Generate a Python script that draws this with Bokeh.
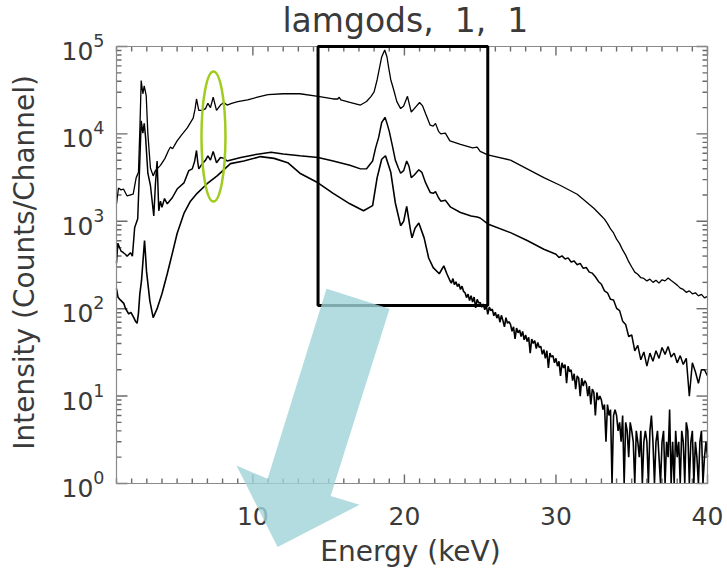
import numpy as np
from bokeh.plotting import figure
from bokeh.models import (FixedTicker, LinearAxis, LogAxis, BoxAnnotation,
                          PolyAnnotation, LogTickFormatter, Range1d, Label,
                          CustomJSTickFormatter)
from bokeh.embed import file_html
from bokeh.resources import INLINE

# ---------------- data ----------------
title_text = "lamgods, \u00a01, \u00a01"
x_label = "Energy (keV)"
y_label = "Intensity (Counts/Channel)"

x_major_ticks = [10, 20, 30, 40]
x_minor_ticks = [v for v in range(1, 41) if v not in x_major_ticks]
y_major_ticks = [1, 10, 100, 1000, 10000, 100000]
y_minor_ticks = [m * 10 ** d for d in range(5) for m in range(2, 10)]

# top spectrum
energy_a = [1.0, 1.13, 1.3, 1.46, 1.7, 2.1, 2.3, 2.45, 2.55, 2.63, 2.74, 2.83, 2.96, 3.07,
            3.24, 3.42, 3.57, 3.9, 4.2, 4.43, 4.56, 4.7, 5.0, 5.3, 5.67, 6.06, 6.18, 6.28,
            6.36, 6.43, 6.66, 6.88, 7.03, 7.2, 7.38, 7.6, 7.86, 8.08, 8.3, 8.6, 9.0, 9.65,
            10.3, 11.0, 12.0, 13.1, 14.3, 15.3, 15.6, 15.7, 15.8, 16.4, 17.1, 17.5, 17.8,
            18.0, 18.2, 18.5, 18.7, 18.85, 18.96, 19.1, 19.3, 19.5, 19.75, 19.95, 20.2,
            20.35, 20.45, 20.65, 21.0, 21.2, 21.4, 21.7, 21.9, 22.05, 22.25, 22.4, 22.7,
            23.0, 23.7, 24.5, 24.8, 25.0, 25.5, 27.0, 28.1, 29.2, 30.3, 31.4, 32.5]
counts_a = [1585, 2400, 2290, 2340, 1950, 2040, 3160, 3630, 12600, 40700, 28800, 35500,
            27500, 10000, 4070, 3310, 3800, 4370, 5250, 6460, 7080, 6760, 8320, 9770,
            11750, 15140, 19050, 25100, 21400, 18600, 18600, 19500, 22400, 19950, 26300,
            18600, 21400, 22900, 21400, 22400, 23400, 24500, 26300, 28200, 28800, 28800,
            26900, 25100, 25100, 26300, 24500, 22900, 21400, 23500, 26900, 30200, 41700,
            75900, 91200, 75900, 57500, 41700, 31600, 23400, 19500, 20900, 26900, 20900,
            17800, 19500, 22900, 20900, 17000, 12600, 12300, 13200, 10700, 10000, 10200,
            8320, 7590, 6920, 7080, 6310, 5750, 5010, 3980, 3160, 2570, 2040, 1410]
tail_energy_a = np.round(np.arange(33.0, 40.01, 0.2), 2)  # channel grid
tail_counts_a = [1150, 1060, 940, 820, 735, 625, 555, 470, 410, 345, 300, 262, 248, 226,
                 222, 208, 218, 200, 212, 196, 214, 208, 224, 210, 198, 186, 172, 166,
                 154, 160, 148, 152, 140, 146, 133, 138]

# middle spectrum
energy_b = [1.0, 1.09, 1.2, 1.3, 1.46, 1.6, 1.7, 1.92, 2.05, 2.2, 2.4, 2.5, 2.63, 2.74,
            2.83, 2.92, 3.07, 3.24, 3.46, 3.57, 3.68, 3.79, 3.9, 4.0, 4.17, 4.35, 4.68,
            5.0, 5.45, 5.77, 6.0, 6.15, 6.28, 6.36, 6.43, 6.66, 6.88, 7.03, 7.2, 7.38,
            7.6, 7.86, 8.1, 8.3, 9.2, 10.05, 11.2, 12.0, 13.1, 14.3, 15.3, 16.4, 17.1,
            17.5, 17.9, 18.1, 18.3, 18.5, 18.72, 18.85, 19.0, 19.2, 19.4, 19.6, 19.75,
            19.95, 20.15, 20.3, 20.45, 20.65, 20.95, 21.15, 21.4, 21.7, 21.9, 22.05,
            22.25, 22.4, 22.7, 23.05, 23.7, 24.4, 24.8, 25.0, 25.5, 27.0, 28.1, 29.2]
counts_b = [331, 562, 501, 457, 437, 417, 398, 437, 398, 851, 1070, 3160, 14100, 10200,
            13200, 9120, 3550, 2570, 1150, 2690, 4900, 1320, 1700, 1450, 1820, 1585, 1860,
            2340, 2750, 3800, 3980, 4790, 6460, 4790, 3980, 4570, 5010, 5620, 5010, 6310,
            4680, 5370, 5250, 4900, 5370, 5750, 6170, 5890, 5620, 5370, 4900, 4370, 3980,
            4000, 4900, 6920, 9120, 13500, 15500, 13200, 10700, 7410, 5010, 4070, 3550,
            3800, 4900, 4270, 3160, 3390, 3890, 3630, 2750, 2140, 2090, 2190, 1860, 1700,
            1740, 1450, 1260, 1150, 1120, 1090, 933, 741, 603, 479]
tail_energy_b = np.round(np.arange(30.0, 40.01, 0.2), 2)  # channel grid
tail_counts_b = [420, 385, 402, 370, 381, 342, 352, 318, 330, 290, 296, 262, 255, 232, 205,
                 190, 160, 152, 128, 126, 101, 95, 72, 66, 48, 50, 33, 38, 26, 32, 22, 31,
                 25, 33, 27, 36, 30, 37, 28, 31, 24, 29, 23, 27, 10, 24, 19, 14, 20, 20, 17]

# bottom spectrum
energy_c = [1.0, 1.1, 1.25, 1.48, 1.6, 1.81, 1.95, 2.14, 2.25, 2.36, 2.45, 2.54, 2.65,
            2.75, 2.85, 2.92, 2.98, 3.2, 3.42, 3.68, 4.0, 4.35, 4.68, 5.0, 5.45, 5.88,
            6.32, 6.98, 7.64, 8.52, 9.4, 10.5, 11.4, 12.3, 13.1, 14.2, 15.3, 16.4, 17.3,
            17.9, 18.2, 18.5, 18.75, 19.1, 19.4, 19.75, 19.95, 20.15, 20.4, 20.5, 20.7,
            20.95, 21.3, 21.6, 21.9, 22.3, 22.6, 22.8]
counts_c = [170, 135, 126, 115, 100, 87, 91, 79, 72, 68, 89, 148, 209, 355, 603, 398, 269,
            123, 79, 100, 148, 251, 427, 724, 1230, 1700, 2090, 2690, 3310, 4570, 4900,
            5500, 5250, 4680, 3550, 2820, 2090, 1585, 1320, 1510, 3160, 5130, 5620, 3630,
            1620, 891, 1000, 1480, 794, 646, 832, 955, 646, 380, 295, 251, 309, 251]
tail_energy_c = np.round(np.arange(23.0, 40.01, 0.1), 2)  # channel grid
tail_counts_c = [210, 196, 221, 188, 203, 179, 192, 166, 181, 158,
                 152, 134, 147, 124, 141, 119, 136, 102, 128, 116,
                 118, 104, 113, 97, 110, 86, 104, 95, 99, 83,
                 91, 78, 86, 70, 84, 73, 62, 79, 68, 71,
                 66, 55, 62, 45, 60, 53, 57, 48, 55, 44,
                 50, 42, 47, 31, 45, 40, 43, 35, 41, 36,
                 37, 30, 34, 27, 33, 21, 31, 28, 29, 24,
                 27, 22, 25, 17, 24, 21, 23, 14, 22, 19,
                 20, 15, 18, 12, 17, 16, 10, 16, 13, 15,
                 14, 10, 13, 8, 12, 11, 6, 11, 9, 10,
                 9, 7, 8, 3, 8, 6, 7, 1, 6, 7,
                 6, 4, 5, 3, 6, 1, 5, 4, 2, 5,
                 4, 3, 1, 4, 3, 2, 4, 1, 3, 4,
                 3, 1, 4, 6, 3, 1, 3, 4, 2, 1,
                 3, 4, 1, 3, 2, 7, 1, 3, 1, 4,
                 2, 3, 1, 4, 3, 1, 5, 4, 1, 3,
                 4, 1, 3, 2, 1, 3, 4, 1, 2, 3,
                 2]

# annotations (data coordinates)
box_left, box_right, box_bottom, box_top = 14.3, 25.5, 109, 1.0e5
ellipse_energy, ellipse_counts = 7.4, 9330
arrow_energy = [14.86, 19.02, 15.13, 17.04, 11.63, 8.92, 10.97]
arrow_counts = [169, 100, 0.72, 0.57, 0.188, 1.6, 1.13]
# text anchors (data coordinates)
title_energy, title_counts = 11.95, 1.97e5
x_label_energy, x_label_counts = 20.4, 0.1665
y_label_energy, y_label_counts = -5.07, 339.0

# ---------------- styling ----------------
FONT = "DejaVu Sans"
TEXT = "#3a3a3a"
AXC = "#8a8a8a"
TICKC = "#6a6a6a"

# The frame fills the whole figure; every axis is pinned at the edge of the data
# box (energy 1..40, counts 1..1e5), so the arrow annotation and the texts can sit
# outside that box, as in the reference.
PX_KEV, PX_DEC = 15.154, 87.34
x_lo, x_hi = 1 - 116 / PX_KEV, 40 + 20 / PX_KEV
y_lo, y_hi = 10 ** (-88 / PX_DEC), 10 ** (5 + 46 / PX_DEC)

p = figure(width=727, height=571, x_range=Range1d(x_lo, x_hi),
           y_range=Range1d(y_lo, y_hi), y_axis_type="log", output_backend="svg",
           toolbar_location=None, min_border=0)
p.xgrid.visible = False
p.ygrid.visible = False
p.outline_line_color = None
p.background_fill_alpha = 0

blank = CustomJSTickFormatter(code="return ''")

# labelled axes (rule + labels)
xa = p.xaxis[0]
xa.ticker = FixedTicker(ticks=x_major_ticks, minor_ticks=x_minor_ticks)
xa.fixed_location = 1
xa.bounds = (1, 40)
ya = p.yaxis[0]
ya.ticker = FixedTicker(ticks=y_major_ticks, minor_ticks=y_minor_ticks)
ya.formatter = LogTickFormatter()
ya.fixed_location = 1
ya.bounds = (1, 1e5)

# rule-only axes closing the box
top_rule = LinearAxis(ticker=FixedTicker(ticks=x_major_ticks), formatter=blank,
                      fixed_location=1e5, bounds=(1, 40))
right_rule = LogAxis(ticker=FixedTicker(ticks=y_major_ticks), formatter=blank,
                     fixed_location=40, bounds=(1, 1e5))
p.add_layout(top_rule, "below")
p.add_layout(right_rule, "left")

for ax in (xa, ya, top_rule, right_rule):
    ax.axis_line_color = AXC
    ax.axis_line_width = 1.2
    ax.major_tick_line_color = None
    ax.minor_tick_line_color = None
    ax.major_tick_in = 0
    ax.major_tick_out = 0
    ax.minor_tick_in = 0
    ax.minor_tick_out = 0
for ax in (xa, ya):
    ax.major_label_text_font = FONT
    ax.major_label_text_color = TEXT
    ax.major_label_text_font_size = "25px"
for ax in (top_rule, right_rule):
    ax.major_label_text_font_size = "0px"
    ax.major_label_standoff = 0
xa.major_label_standoff = 24
ya.major_label_standoff = 12

# inward tick marks at the tick values, on all four sides of the box
def ticks(xs, ys, length, angle):
    p.ray(x=xs, y=ys, length=length, length_units="screen", angle=angle,
          line_color=TICKC, line_width=1.4)

nx, Nx = len(x_minor_ticks), len(x_major_ticks)
ny, Ny = len(y_minor_ticks), len(y_major_ticks)
ticks(x_minor_ticks, [1] * nx, 5, np.pi / 2)
ticks(x_major_ticks, [1] * Nx, 9, np.pi / 2)
ticks(x_minor_ticks, [1e5] * nx, 5, -np.pi / 2)
ticks(x_major_ticks, [1e5] * Nx, 9, -np.pi / 2)
ticks([1] * ny, y_minor_ticks, 5, 0)
ticks([1] * Ny, y_major_ticks, 11, 0)
ticks([40] * ny, y_minor_ticks, 5, np.pi)
ticks([40] * Ny, y_major_ticks, 11, np.pi)

# spectra
p.line(list(energy_a) + list(tail_energy_a), counts_a + tail_counts_a,
       line_color="black", line_width=1.3)
p.line(list(energy_b) + list(tail_energy_b), counts_b + tail_counts_b,
       line_color="black", line_width=1.5)
p.line(list(energy_c) + list(tail_energy_c), counts_c + tail_counts_c,
       line_color="black", line_width=1.6)

# title and axis titles
p.add_layout(Label(x=title_energy, y=title_counts, text=title_text, text_align="left",
                   text_baseline="middle", text_font=FONT, text_font_size="33px",
                   text_color=TEXT))
p.add_layout(Label(x=x_label_energy, y=x_label_counts, text=x_label, text_align="center",
                   text_baseline="middle", text_font=FONT, text_font_size="28px",
                   text_color=TEXT))
p.add_layout(Label(x=y_label_energy, y=y_label_counts, text=y_label, angle=np.pi / 2,
                   text_align="center", text_baseline="middle", text_font=FONT,
                   text_font_size="28px", text_color=TEXT))

# annotations
p.add_layout(BoxAnnotation(left=box_left, right=box_right, bottom=box_bottom, top=box_top,
                           fill_color=None, fill_alpha=0, line_color="black",
                           line_alpha=1, line_width=3))
p.ellipse(x=[ellipse_energy], y=[ellipse_counts], width=24, height=130,
          width_units="screen", height_units="screen", fill_color=None,
          line_color="#9fcc1f", line_width=2.5)
p.add_layout(PolyAnnotation(xs=arrow_energy, ys=arrow_counts, fill_color="#9fd3d8",
                            fill_alpha=0.8, line_color=None))

open("out.html", "w").write(file_html(p, INLINE))
